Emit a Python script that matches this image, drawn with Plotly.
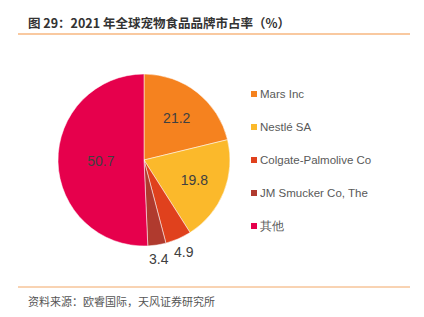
import math
import plotly.graph_objects as go

labels = ["Mars Inc", "Nestlé SA", "Colgate-Palmolive Co", "JM Smucker Co, The", "其他"]
values = [21.2, 19.8, 4.9, 3.4, 50.7]
colors = ["#F5821F", "#FBB92B", "#E0411D", "#B03A2E", "#E6004C"]
outside = [False, False, True, True, False]

W, H = 424, 317
CX, CY, R = 144, 160, 86
fig = go.Figure()
fig.add_trace(go.Pie(
    labels=labels, values=values, sort=False, direction="clockwise", rotation=0,
    marker=dict(colors=colors, line=dict(color="white", width=0.5)),
    texttemplate=["" if o else "%{value:.1f}" for o in outside], textposition="inside",
    insidetextorientation="horizontal",
    textfont=dict(family="Liberation Sans, Arial", size=14, color="#404040"),
    showlegend=False, hoverinfo="label+value",
    domain=dict(x=[(CX - R) / W, (CX + R) / W], y=[1 - (CY + R) / H, 1 - (CY - R) / H]),
))

shapes = [
    dict(type="line", xref="paper", yref="paper", x0=18 / W, x1=410 / W, y0=1 - 34 / H, y1=1 - 34 / H,
         line=dict(color="#F9C9A0", width=2)),
    dict(type="line", xref="paper", yref="paper", x0=18 / W, x1=410 / W, y0=1 - 287 / H, y1=1 - 287 / H,
         line=dict(color="#F2A766", width=1)),
]
annotations = [
    dict(text="<b>图 29：2021 年全球宠物食品品牌市占率（%）</b>", xref="paper", yref="paper",
         x=26 / W, y=1 - 22 / H, xanchor="left", yanchor="middle", showarrow=False,
         font=dict(family="Noto Sans CJK SC", size=12.5, color="#333333")),
    dict(text="资料来源：欧睿国际，天风证券研究所", xref="paper", yref="paper",
         x=26 / W, y=1 - 301 / H, xanchor="left", yanchor="middle", showarrow=False,
         font=dict(family="Noto Sans CJK SC", size=11, color="#555555")),
]

# outside value labels placed radially from the slice mid-angle
total = sum(values)
cum = 0.0
for v, o in zip(values, outside):
    mid = (cum + v / 2) / total * 2 * math.pi
    cum += v
    if o:
        rr = R + 14
        px = CX + rr * math.sin(mid)
        py = CY - rr * math.cos(mid)
        annotations.append(dict(text=f"{v:.1f}", xref="paper", yref="paper", x=px / W, y=1 - py / H,
                                xanchor="center", yanchor="middle", showarrow=False,
                                font=dict(family="Liberation Sans, Arial", size=14, color="#404040")))

for i, (lab, col) in enumerate(zip(labels, colors)):
    yc = 94 + 33 * i
    shapes.append(dict(type="rect", xref="paper", yref="paper",
                       x0=251 / W, x1=257 / W, y0=1 - (yc + 3) / H, y1=1 - (yc - 3) / H,
                       fillcolor=col, line=dict(width=0)))
    annotations.append(dict(text=lab, xref="paper", yref="paper", x=258 / W, y=1 - yc / H,
                            xanchor="left", yanchor="middle", showarrow=False,
                            font=dict(family="Liberation Sans, Arial", size=11.5, color="#595959")))

fig.update_layout(width=W, height=H, margin=dict(l=0, r=0, t=0, b=0),
                  paper_bgcolor="white", plot_bgcolor="white",
                  shapes=shapes, annotations=annotations)
fig.write_html("out.html")
